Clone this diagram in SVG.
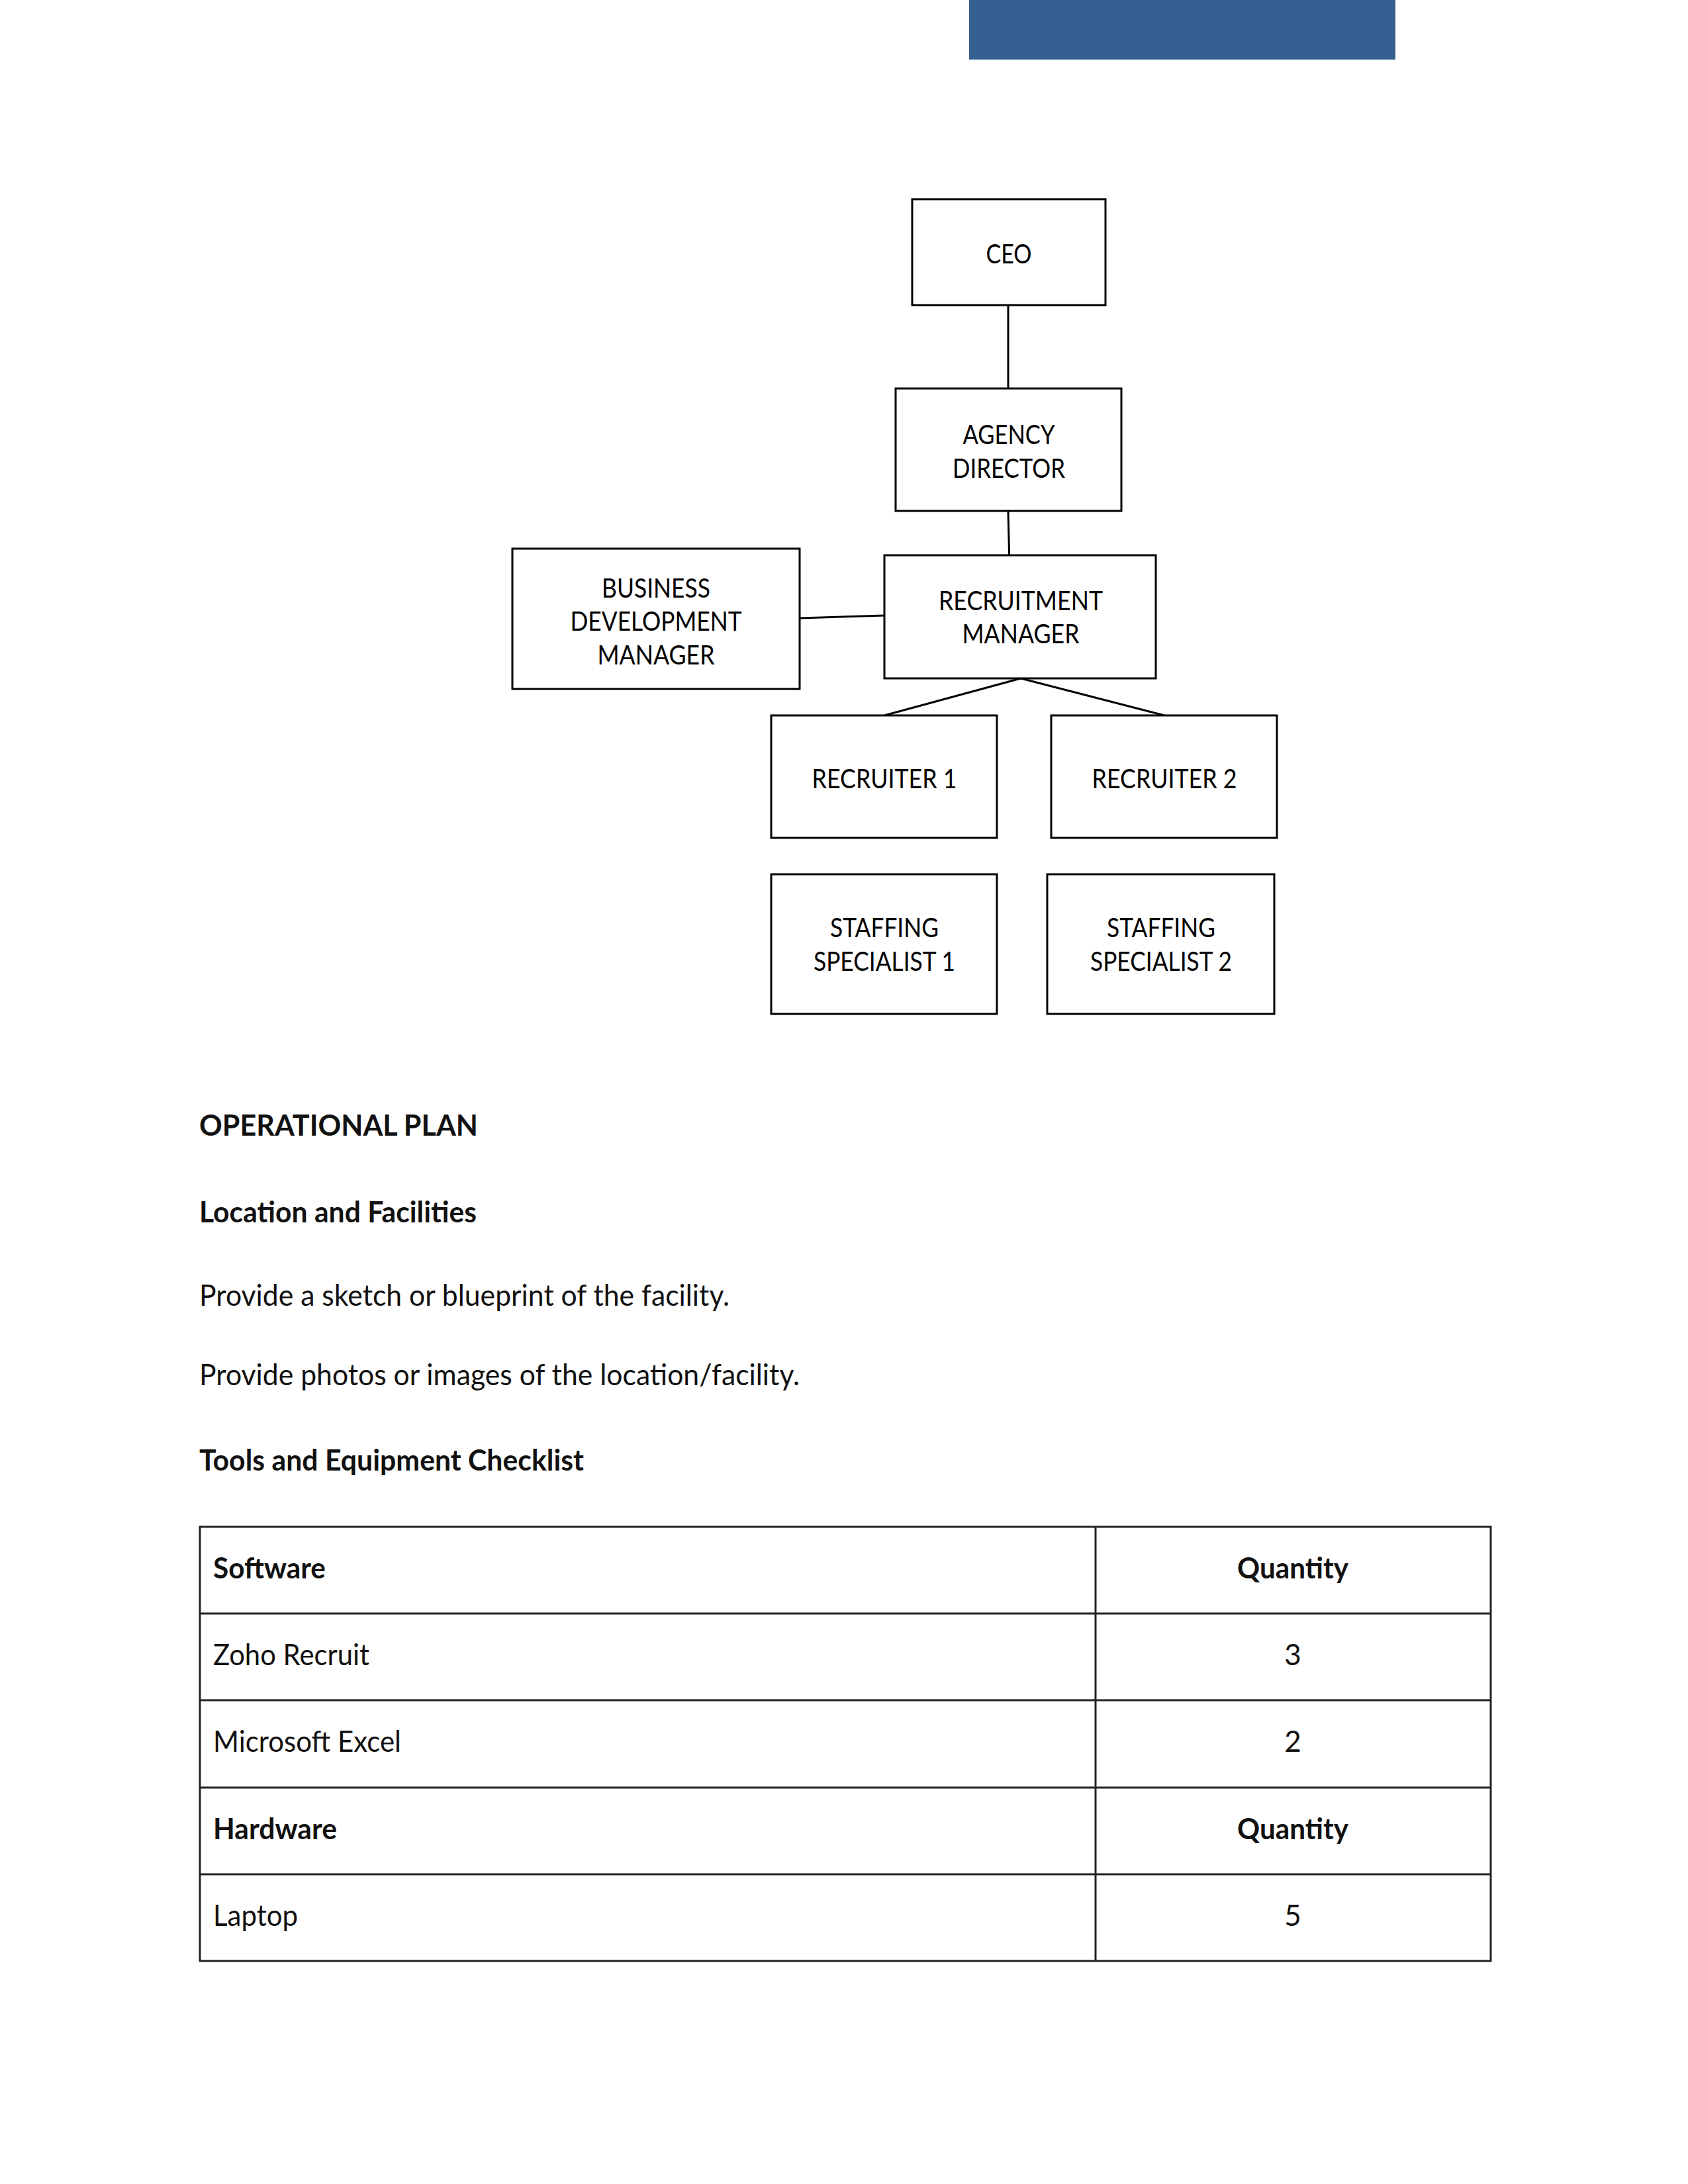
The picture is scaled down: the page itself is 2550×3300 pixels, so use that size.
<svg xmlns="http://www.w3.org/2000/svg" width="2550" height="3300" viewBox="0 0 2550 3300">
<style>
.box{fill:#fff;stroke:#000;stroke-width:3}
.con{stroke:#000;stroke-width:3;fill:none}
.nt{font-family:Lato,"Open Sans","Liberation Sans",sans-serif;font-size:40px;fill:#000;text-anchor:middle}
.body{font-family:Lato,"Open Sans","Liberation Sans",sans-serif;font-size:44px;fill:#111}
.b{font-weight:bold}
.tl{stroke:#222;stroke-width:3;fill:none}
</style>
<rect x="1464" y="0" width="644" height="90" fill="#365F91"/>
<g transform="translate(2,2)">
<g id="connectors">
<line class="con" x1="1521" y1="459" x2="1521" y2="585"/>
<line class="con" x1="1521" y1="770" x2="1523" y2="854"/>
<line class="con" x1="1206" y1="932" x2="1334" y2="928"/>
<line class="con" x1="1540" y1="1023" x2="1334" y2="1079"/>
<line class="con" x1="1540" y1="1023" x2="1757" y2="1079"/>
</g>
<g id="ceo"><rect class="box" x="1376" y="299" width="292" height="160"/><text class="nt" x="1522" y="396" textLength="69" lengthAdjust="spacingAndGlyphs">CEO</text></g>
<g id="agency-director"><rect class="box" x="1351" y="585" width="341" height="185"/><text class="nt" x="1522" y="669" textLength="139" lengthAdjust="spacingAndGlyphs">AGENCY</text><text class="nt" x="1522" y="720" textLength="170" lengthAdjust="spacingAndGlyphs">DIRECTOR</text></g>
<g id="business-development-manager"><rect class="box" x="772" y="827" width="434" height="212"/><text class="nt" x="989" y="901" textLength="164" lengthAdjust="spacingAndGlyphs">BUSINESS</text><text class="nt" x="989" y="951" textLength="259" lengthAdjust="spacingAndGlyphs">DEVELOPMENT</text><text class="nt" x="989" y="1002" textLength="177" lengthAdjust="spacingAndGlyphs">MANAGER</text></g>
<g id="recruitment-manager"><rect class="box" x="1334" y="837" width="410" height="186"/><text class="nt" x="1540" y="920" textLength="248" lengthAdjust="spacingAndGlyphs">RECRUITMENT</text><text class="nt" x="1540" y="970" textLength="177" lengthAdjust="spacingAndGlyphs">MANAGER</text></g>
<g id="recruiter-1"><rect class="box" x="1163" y="1079" width="341" height="185"/><text class="nt" x="1334" y="1189" textLength="219" lengthAdjust="spacingAndGlyphs">RECRUITER 1</text></g>
<g id="recruiter-2"><rect class="box" x="1586" y="1079" width="341" height="185"/><text class="nt" x="1757" y="1189" textLength="219" lengthAdjust="spacingAndGlyphs">RECRUITER 2</text></g>
<g id="staffing-specialist-1"><rect class="box" x="1163" y="1319" width="341" height="211"/><text class="nt" x="1334" y="1414" textLength="164" lengthAdjust="spacingAndGlyphs">STAFFING</text><text class="nt" x="1334" y="1465" textLength="214" lengthAdjust="spacingAndGlyphs">SPECIALIST 1</text></g>
<g id="staffing-specialist-2"><rect class="box" x="1580" y="1319" width="343" height="211"/><text class="nt" x="1752" y="1414" textLength="164" lengthAdjust="spacingAndGlyphs">STAFFING</text><text class="nt" x="1752" y="1465" textLength="214" lengthAdjust="spacingAndGlyphs">SPECIALIST 2</text></g>
<text class="body b" x="299" y="1714" textLength="421" lengthAdjust="spacingAndGlyphs">OPERATIONAL PLAN</text>
<text class="body b" x="299" y="1845" textLength="419" lengthAdjust="spacingAndGlyphs">Location and Facilities</text>
<text class="body" x="299" y="1971" textLength="801" lengthAdjust="spacingAndGlyphs">Provide a sketch or blueprint of the facility.</text>
<text class="body" x="299" y="2091" textLength="907" lengthAdjust="spacingAndGlyphs">Provide photos or images of the location/facility.</text>
<text class="body b" x="299" y="2220" textLength="581" lengthAdjust="spacingAndGlyphs">Tools and Equipment Checklist</text>
<g id="table">
<rect class="tl" x="300" y="2305" width="1950" height="656"/>
<line class="tl" x1="1653" y1="2305" x2="1653" y2="2961"/>
<line class="tl" x1="300" y1="2436" x2="2250" y2="2436"/>
<line class="tl" x1="300" y1="2567" x2="2250" y2="2567"/>
<line class="tl" x1="300" y1="2699" x2="2250" y2="2699"/>
<line class="tl" x1="300" y1="2830" x2="2250" y2="2830"/>
<text class="body b" x="320" y="2383" textLength="170" lengthAdjust="spacingAndGlyphs">Software</text>
<text class="body b" x="1951" y="2383" text-anchor="middle" textLength="168" lengthAdjust="spacingAndGlyphs">Quantity</text>
<text class="body" x="320" y="2514" textLength="236" lengthAdjust="spacingAndGlyphs">Zoho Recruit</text>
<text class="body" x="1951" y="2514" text-anchor="middle">3</text>
<text class="body" x="320" y="2645" textLength="284" lengthAdjust="spacingAndGlyphs">Microsoft Excel</text>
<text class="body" x="1951" y="2645" text-anchor="middle">2</text>
<text class="body b" x="320" y="2777" textLength="187" lengthAdjust="spacingAndGlyphs">Hardware</text>
<text class="body b" x="1951" y="2777" text-anchor="middle" textLength="168" lengthAdjust="spacingAndGlyphs">Quantity</text>
<text class="body" x="320" y="2908" textLength="128" lengthAdjust="spacingAndGlyphs">Laptop</text>
<text class="body" x="1951" y="2908" text-anchor="middle">5</text>
</g>
</g>
</svg>
